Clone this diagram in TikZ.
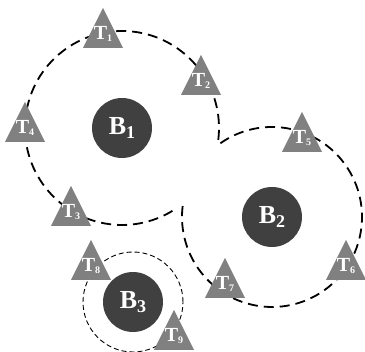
\documentclass[tikz,border=0pt]{standalone}
\usepackage{fontspec}
\setmainfont{Liberation Serif}
\usepackage{tikz}
\definecolor{bsgray}{HTML}{404040}
\definecolor{uegray}{HTML}{808080}

\tikzset{
  bs/.style={circle, fill=bsgray, minimum size=60pt, inner sep=0pt, text=white,
    font=\bfseries\fontsize{26}{26}\selectfont},
  ue/.style={fill=uegray},
  uelab/.style={anchor=base, inner sep=0pt, text=white,
    font=\bfseries\fontsize{20}{20}\selectfont},
  cov/.style={line width=1.8pt, dash pattern=on 10pt off 6pt},
  covsmall/.style={line width=0.9pt, dash pattern=on 5pt off 3pt}
}

\begin{document}
\begin{tikzpicture}[x=1pt, y=1pt]
\useasboundingbox (0,0) rectangle (365,352);
    % coverage areas
    \draw[cov] (122,224) ++(-7:97) arc (-7:304:97);
    \draw[cov] (272,135) ++(125:90) arc (125:-189:90);
    \draw[covsmall] (133,50) circle (50);
    % base stations
    \node[bs] (b1) at (122,224) {B\raisebox{-4pt}{\fontsize{18}{18}\selectfont 1}};
    \node[bs] (b2) at (272,135) {B\raisebox{-4pt}{\fontsize{18}{18}\selectfont 2}};
    \node[bs] (b3) at (133,50) {B\raisebox{-4pt}{\fontsize{18}{18}\selectfont 3}};
    % terminals
    \foreach \i/\x/\y in {1/103/304, 2/201/257, 3/71/126, 4/25/210, 5/302/200,
                          6/346/72, 7/225/54, 8/91/72, 9/174/2} {
        \fill[ue] (\x-20,\y) -- (\x+20,\y) -- (\x,\y+40) -- cycle;
        \node[uelab] (t\i) at (\x,\y+8.5) {T\raisebox{-1.7pt}{\fontsize{10}{10}\selectfont\i}};
    }
\end{tikzpicture}
\end{document}
